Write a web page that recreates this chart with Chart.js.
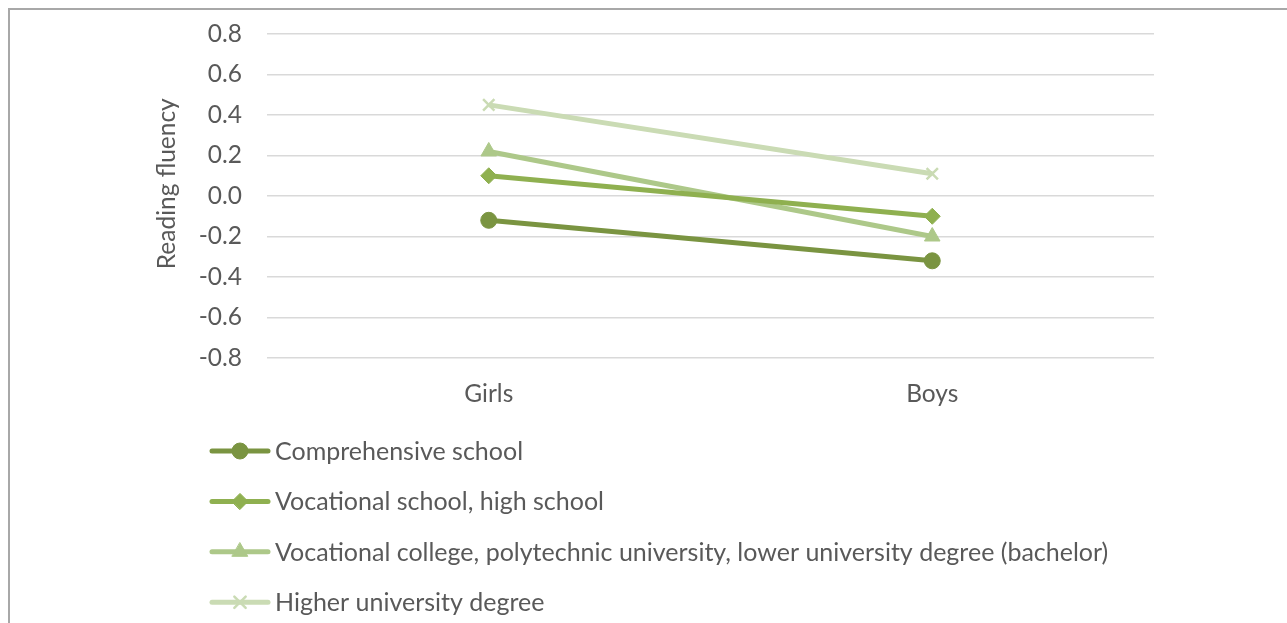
<!DOCTYPE html>
<html>
<head>
<meta charset="utf-8">
<script src="https://cdn.jsdelivr.net/npm/chart.js@4"></script>
<style>
  html, body { margin: 0; padding: 0; background: #fff; overflow: hidden; }
  #frame { position: absolute; left: 8px; top: 8px; width: 1300px; height: 640px;
           border-left: 2px solid #a8a8a8; border-top: 2px solid #a8a8a8; }
  #wrap { position: absolute; left: 0; top: 0; width: 1287px; height: 623px; }
</style>
</head>
<body>
<div id="frame"></div>
<div id="wrap"><canvas id="myChart" width="1287" height="623"></canvas></div>
<script>
const categories = ['Girls', 'Boys'];
const comprehensive = [-0.12, -0.32];
const vocationalSchool = [0.10, -0.10];
const vocationalCollege = [0.22, -0.20];
const higherUniversity = [0.45, 0.11];
const seriesNames = [
    'Comprehensive school',
    'Vocational school, high school',
    'Vocational college, polytechnic university, lower university degree (bachelor)',
    'Higher university degree'
];
const yTicks = [-0.8, -0.6, -0.4, -0.2, 0.0, 0.2, 0.4, 0.6, 0.8];

const FONT = 'Lato, "Open Sans", sans-serif';
const TEXT = '#595959';

function series(label, data, color, style, radius) {
    return {
        label: label,
        data: data,
        borderColor: color,
        backgroundColor: color,
        borderWidth: 5,
        pointStyle: style,
        pointRadius: radius,
        pointHoverRadius: radius,
        pointBorderWidth: style === 'crossRot' ? 2.5 : 1,
        pointBorderColor: color,
        pointBackgroundColor: color,
        tension: 0
    };
}

// legend drawn as a vertical list under the plot
const listLegend = {
    id: 'listLegend',
    afterDraw(chart) {
        const c = chart.ctx;
        chart.data.datasets.forEach((ds, i) => {
            const y = 451 + i * 50.4;
            c.save();
            c.strokeStyle = ds.borderColor;
            c.lineWidth = 5;
            c.lineCap = 'round';
            c.beginPath();
            c.moveTo(212, y);
            c.lineTo(268, y);
            c.stroke();
            c.fillStyle = ds.backgroundColor;
            c.lineWidth = ds.pointBorderWidth;
            Chart.helpers.drawPoint(c, {pointStyle: ds.pointStyle, radius: ds.pointRadius, rotation: 0, borderWidth: ds.pointBorderWidth}, 240, y);
            c.fillStyle = TEXT;
            c.font = '25px ' + FONT;
            c.textBaseline = 'middle';
            c.textAlign = 'left';
            c.fillText(ds.label, 275, y + 1);
            c.restore();
        });
    }
};

const ctx = document.getElementById('myChart').getContext('2d');
const myChart = new Chart(ctx, {
    type: 'line',
    data: {
        labels: categories,
        datasets: [
            series(seriesNames[0], comprehensive, '#7a9441', 'circle', 8),
            series(seriesNames[1], vocationalSchool, '#8fb050', 'rectRot', 8),
            series(seriesNames[2], vocationalCollege, '#adc889', 'triangle', 9),
            series(seriesNames[3], higherUniversity, '#cadbb4', 'crossRot', 8)
        ]
    },
    options: {
        responsive: false,
        animation: false,
        layout: { padding: { left: 152, right: 133, top: 34, bottom: 205 } },
        scales: {
            x: {
                offset: true,
                grid: { display: false },
                border: { display: false },
                ticks: { color: TEXT, font: { family: FONT, size: 24.5 }, padding: 13 },
                afterFit: (s) => { s.height = 60; }
            },
            y: {
                min: -0.8,
                max: 0.8,
                afterBuildTicks: (s) => { s.ticks = yTicks.map(v => ({ value: v })); },
                grid: { color: '#d9d9d9', lineWidth: 1.5, drawTicks: false },
                border: { display: false },
                ticks: {
                    color: TEXT,
                    font: { family: FONT, size: 24.5 },
                    padding: 25,
                    callback: (v) => Number(v).toFixed(1)
                },
                title: {
                    display: true,
                    text: '\u2002\u2002Reading fluency',
                    color: TEXT,
                    font: { family: FONT, size: 24.5 },
                    padding: 0
                },
                afterFit: (s) => {
                    s.width = 115;
                    s.paddingTop = 0;
                    s.paddingBottom = 0;
                }
            }
        },
        plugins: {
            legend: { display: false },
            tooltip: { enabled: false }
        }
    },
    plugins: [listLegend]
});
</script>
</body>
</html>
